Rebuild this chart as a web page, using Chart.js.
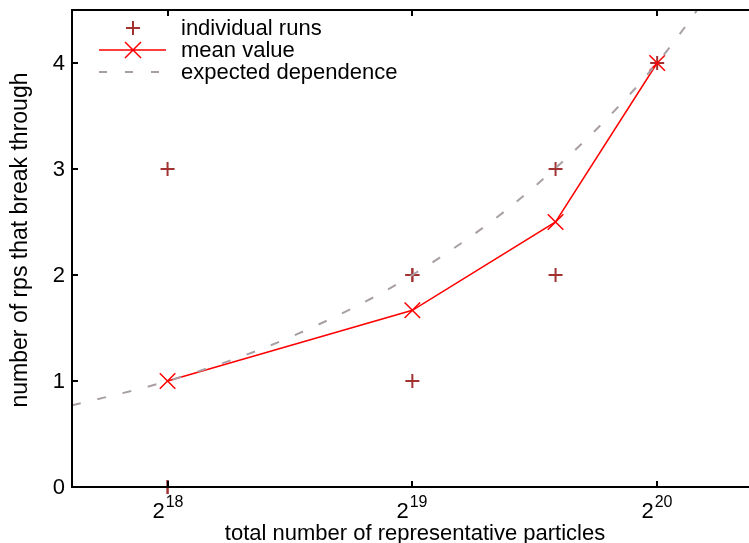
<!DOCTYPE html>
<html>
<head>
<meta charset="utf-8">
<script src="https://cdn.jsdelivr.net/npm/chart.js@4.4.1/dist/chart.umd.min.js"></script>
<style>
  body { margin: 0; background: #fff; }
  #wrap { width: 749px; height: 543px; }
</style>
</head>
<body>
<div id="wrap"><canvas id="rpsChart" width="749" height="543"></canvas></div>
<script>
// total number of representative particles and the runs at each size
const particleCounts = [262144, 524288, 786432, 1048576];
const individualRuns = [[3, 0, 0], [2, 2, 1], [3, 2], [4]];
const meanValues = [1, 1.667, 2.5, 4];
// expected dependence
const expectedX = [200000, 262144, 370000, 524288, 740000, 1048576, 1360000];
const expectedY = [0.77, 1, 1.41, 2, 2.83, 4, 5.2];
// axis ticks
const xTickValues = [262144, 524288, 1048576];
const xTickExponents = ["18", "19", "20"];
const yTickValues = [0, 1, 2, 3, 4];

const FONT = '"Liberation Sans", Arial, Helvetica, sans-serif';
const RUN_COLOR = "#a23232";
const MEAN_COLOR = "#ff0000";
const EXPECTED_COLOR = "#a89fa4";

const runsData = [];
particleCounts.forEach((n, i) => {
  individualRuns[i].forEach((v) => runsData.push({ x: n, y: v }));
});
const meanData = particleCounts.map((n, i) => ({ x: n, y: meanValues[i] }));
const expectedData = expectedX.map((n, i) => ({ x: n, y: expectedY[i] }));

// frame, ticks, labels and key, drawn gnuplot style
const framePlugin = {
  id: "gnuplotFrame",
  afterDraw: (chart) => {
    const ctx = chart.ctx;
    const a = chart.chartArea;
    const xs = chart.scales.x;
    const ys = chart.scales.y;
    ctx.save();
    ctx.strokeStyle = "#000";
    ctx.lineWidth = 2;
    ctx.beginPath();
    ctx.moveTo(a.right + 2, a.top);
    ctx.lineTo(a.left, a.top);
    ctx.lineTo(a.left, a.bottom);
    ctx.lineTo(a.right + 2, a.bottom);
    ctx.stroke();

    ctx.fillStyle = "#000";
    ctx.font = "22px " + FONT;
    ctx.textAlign = "right";
    ctx.textBaseline = "middle";
    yTickValues.forEach((v) => {
      const py = Math.round(ys.getPixelForValue(v));
      if (v > 0) {
        ctx.beginPath();
        ctx.moveTo(a.left, py);
        ctx.lineTo(a.left + 6, py);
        ctx.stroke();
      }
      ctx.fillText(String(v), a.left - 7, py + 1);
    });

    xTickValues.forEach((v, i) => {
      const px = Math.round(xs.getPixelForValue(v));
      ctx.beginPath();
      ctx.moveTo(px, a.bottom);
      ctx.lineTo(px, a.bottom - 6);
      ctx.moveTo(px, a.top);
      ctx.lineTo(px, a.top + 6);
      ctx.stroke();
      ctx.textBaseline = "alphabetic";
      ctx.textAlign = "left";
      ctx.font = "22px " + FONT;
      const baseW = ctx.measureText("2").width;
      ctx.font = "16px " + FONT;
      const supW = ctx.measureText(xTickExponents[i]).width;
      const x0 = px - (baseW + 1 + supW) / 2;
      ctx.font = "22px " + FONT;
      ctx.fillText("2", x0, 518);
      ctx.font = "16px " + FONT;
      ctx.fillText(xTickExponents[i], x0 + baseW + 1, 507);
    });

    // axis titles
    ctx.font = "22px " + FONT;
    ctx.textAlign = "center";
    ctx.textBaseline = "alphabetic";
    ctx.fillText("total number of representative particles", 415, 540);
    ctx.save();
    ctx.translate(27, 240);
    ctx.rotate(-Math.PI / 2);
    ctx.font = "23px " + FONT;
    ctx.fillText("number of rps that break through", 0, 0);
    ctx.restore();

    // key
    ctx.textAlign = "left";
    ctx.fillText("individual runs", 181, 35);
    ctx.fillText("mean value", 181, 57);
    ctx.fillText("expected dependence", 181, 79);

    ctx.strokeStyle = RUN_COLOR;
    ctx.lineWidth = 2;
    ctx.beginPath();
    ctx.moveTo(126, 28);
    ctx.lineTo(140, 28);
    ctx.moveTo(133, 21);
    ctx.lineTo(133, 35);
    ctx.stroke();

    ctx.strokeStyle = MEAN_COLOR;
    ctx.lineWidth = 1.5;
    ctx.beginPath();
    ctx.moveTo(99, 50);
    ctx.lineTo(166, 50);
    ctx.moveTo(125, 42);
    ctx.lineTo(141, 58);
    ctx.moveTo(141, 42);
    ctx.lineTo(125, 58);
    ctx.stroke();

    ctx.strokeStyle = EXPECTED_COLOR;
    ctx.lineWidth = 2;
    ctx.setLineDash([8, 18]);
    ctx.beginPath();
    ctx.moveTo(99, 72);
    ctx.lineTo(166, 72);
    ctx.stroke();
    ctx.restore();
  },
};

new Chart(document.getElementById("rpsChart").getContext("2d"), {
  type: "scatter",
  data: {
    datasets: [
      {
        label: "expected dependence",
        data: expectedData,
        showLine: true,
        borderColor: EXPECTED_COLOR,
        borderWidth: 2,
        borderDash: [9, 17],
        cubicInterpolationMode: "monotone",
        pointRadius: 0,
      },
      {
        label: "mean value",
        data: meanData,
        showLine: true,
        borderColor: MEAN_COLOR,
        borderWidth: 1.5,
        pointStyle: "crossRot",
        pointRadius: 11,
        pointBorderColor: MEAN_COLOR,
        pointBorderWidth: 1.5,
        clip: false,
      },
      {
        label: "individual runs",
        data: runsData,
        showLine: false,
        pointStyle: "cross",
        pointRadius: 7,
        pointBorderColor: RUN_COLOR,
        pointBorderWidth: 2,
        clip: false,
      },
    ],
  },
  options: {
    responsive: false,
    animation: false,
    layout: {
      autoPadding: false,
      padding: { left: 72, top: 10, right: 0, bottom: 56 },
    },
    scales: {
      x: { type: "logarithmic", min: 200000, max: 1360000, display: false },
      y: { min: 0, max: 4.5, display: false },
    },
    plugins: {
      legend: { display: false },
      tooltip: { enabled: false },
    },
  },
  plugins: [framePlugin],
});
</script>
</body>
</html>
